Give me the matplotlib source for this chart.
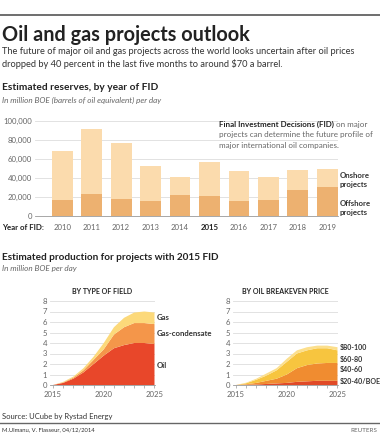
"""Oil and gas projects outlook - recreated Reuters graphic."""
import matplotlib
matplotlib.use("Agg")
import matplotlib.pyplot as plt
import numpy as np

plt.rcParams.update({
    "font.family": ["Lato", "DejaVu Sans"],
    "font.size": 6,
    "axes.linewidth": 0.6,
})

W, H = 380, 438
TXT = "#333333"
GREY = "#666666"
GRID = "#dddddd"

# ---- data ----------------------------------------------------------------
fid_years = ["2010", "2011", "2012", "2013", "2014", "2015", "2016", "2017", "2018", "2019"]
reserves_total = [68000, 92000, 77000, 53000, 41000, 57000, 47000, 41000, 48000, 49000]
reserves_offshore = [17000, 23000, 18000, 16000, 22000, 21000, 15500, 16500, 27000, 30500]

prod_years = [2015, 2016, 2017, 2018, 2019, 2020, 2021, 2022, 2023, 2024, 2025]
# by type of field (per layer)
oil = [0.0, 0.2, 0.6, 1.2, 2.0, 2.8, 3.5, 3.8, 4.0, 4.0, 3.9]
gas_condensate = [0.0, 0.05, 0.1, 0.2, 0.4, 0.6, 1.3, 1.7, 1.9, 1.9, 1.9]
gas = [0.0, 0.05, 0.1, 0.2, 0.3, 0.6, 0.7, 0.9, 1.0, 1.1, 1.1]
# by oil breakeven price (per layer)
be_20_40 = [0.0, 0.02, 0.05, 0.1, 0.15, 0.2, 0.3, 0.35, 0.4, 0.4, 0.4]
be_40_60 = [0.0, 0.05, 0.15, 0.3, 0.45, 0.8, 1.3, 1.55, 1.65, 1.7, 1.7]
be_60_80 = [0.0, 0.1, 0.3, 0.5, 0.8, 1.2, 1.4, 1.4, 1.45, 1.4, 1.2]
be_80_100 = [0.0, 0.05, 0.1, 0.2, 0.2, 0.3, 0.3, 0.3, 0.25, 0.25, 0.3]

C_ON, C_OFF = "#fbdbad", "#edb170"
C_OIL, C_COND, C_GAS = "#e8472a", "#f4964a", "#fcd97a"
C_BE = ["#e04a28", "#f08c30", "#f7c53f", "#fcdf8c"]


def fx(px):
    return px / W


def fy(py):
    return 1 - py / H


def axes_px(fig, left, top, right, bottom):
    return fig.add_axes([fx(left), fy(bottom), (right - left) / W, (bottom - top) / H])


fig = plt.figure(figsize=(W / 100, H / 100), dpi=100)

# ---- header --------------------------------------------------------------
fig.add_artist(plt.Line2D([0, 1], [fy(15), fy(15)], color="#555555", lw=1.2))
fig.text(fx(2), fy(35), "Oil and gas projects outlook", fontsize=14.3,
         fontweight="bold", color="#222222", va="center")
fig.text(fx(2), fy(52), "The future of major oil and gas projects across the world looks "
         "uncertain after oil prices", fontsize=6.7, color=TXT, va="center")
fig.text(fx(2), fy(64), "dropped by 40 percent in the last five months to around $70 a barrel.",
         fontsize=6.7, color=TXT, va="center")

fig.text(fx(2), fy(88), "Estimated reserves, by year of FID", fontsize=7.3,
         fontweight="bold", color="#222222", va="center")
fig.text(fx(2), fy(100), "In million BOE (barrels of oil equivalent) per day", fontsize=5.85,
         style="italic", color=GREY, va="center")

# ---- bar chart -----------------------------------------------------------
ax = axes_px(fig, 35, 121, 338, 216)
xs = np.arange(len(fid_years))
onshore = np.array(reserves_total) - np.array(reserves_offshore)
ax.bar(xs, reserves_offshore, 0.71, color=C_OFF, zorder=2)
ax.bar(xs, onshore, 0.71, bottom=reserves_offshore, color=C_ON, zorder=2)
ax.set_xlim(-0.92, 9.36)
ax.set_ylim(0, 100000)
ax.set_yticks(np.arange(0, 100001, 20000))
ax.set_yticklabels([f"{v:,}" for v in range(0, 100001, 20000)])
ax.yaxis.grid(True, color=GRID, lw=0.6, zorder=0)
ax.tick_params(axis="y", length=0, pad=2, labelsize=5.6, labelcolor=GREY)
ax.set_xticks(xs)
ax.set_xticklabels(fid_years)
ax.tick_params(axis="x", length=0, pad=6, labelsize=5.6, labelcolor=GREY)
for lbl in ax.get_xticklabels():
    if lbl.get_text() == "2015":
        lbl.set_fontweight("bold")
        lbl.set_color("#222222")
for s in ["top", "right", "left"]:
    ax.spines[s].set_visible(False)
ax.spines["bottom"].set_color("#999999")
fig.text(fx(2), fy(227), "Year of FID:", fontsize=5.7, fontweight="bold",
         color="#222222", va="center")

renderer = fig.canvas.get_renderer()
t = fig.text(fx(219), fy(124), "Final Investment Decisions (FID)", fontsize=5.8,
             fontweight="bold", color="#222222", va="center")
bb = t.get_window_extent(renderer=renderer)
fig.text(bb.x1 / W + fx(2), fy(124), "on major", fontsize=5.8, color=GREY, va="center")
fig.text(fx(219), fy(135), "projects can determine the future profile of",
         fontsize=5.8, color=GREY, va="center")
fig.text(fx(219), fy(146), "major international oil companies.",
         fontsize=5.8, color=GREY, va="center")
for py, s in [(175, "Onshore"), (184, "projects"), (203, "Offshore"), (212, "projects")]:
    fig.text(fx(340), fy(py), s, fontsize=5.6, fontweight="bold", color=TXT, va="center")

# ---- production section --------------------------------------------------
fig.text(fx(2), fy(257), "Estimated production for projects with 2015 FID", fontsize=7.2,
         fontweight="bold", color="#222222", va="center")
fig.text(fx(2), fy(269), "In million BOE per day", fontsize=5.85, style="italic",
         color=GREY, va="center")


def area_axes(left, right, title, layers, colors, labels, label_y, label_size):
    a = axes_px(fig, left, 301, right, 385)
    a.stackplot(prod_years, *layers, colors=colors, lw=0, zorder=2)
    a.set_xlim(2014.7, 2025.05)
    a.set_ylim(0, 8)
    a.set_yticks(range(0, 9))
    a.yaxis.grid(True, color=GRID, lw=0.6, zorder=0)
    a.tick_params(axis="y", length=0, pad=2, labelsize=5.6, labelcolor=GREY)
    a.set_xticks([2015, 2020, 2025])
    a.set_xticks(prod_years, minor=True)
    a.tick_params(axis="x", which="both", length=2.5, width=0.5, color="#999999",
                  pad=2, labelsize=5.6, labelcolor=GREY)
    for s in ["top", "right", "left"]:
        a.spines[s].set_visible(False)
    a.spines["bottom"].set_color("#999999")
    fig.text(fx((left + right) / 2), fy(292), title, fontsize=5, fontweight="bold",
             color="#222222", ha="center", va="center")
    for py, s in zip(label_y, labels):
        fig.text(fx(right + 2), fy(py), s, fontsize=label_size, fontweight="bold",
                 color=TXT, va="center")
    return a


area_axes(50, 155, "BY TYPE OF FIELD", [oil, gas_condensate, gas],
          [C_OIL, C_COND, C_GAS], ["Gas", "Gas-condensate", "Oil"], [318, 334, 365], 5.6)
area_axes(233, 338, "BY OIL BREAKEVEN PRICE", [be_20_40, be_40_60, be_60_80, be_80_100],
          C_BE, ["$80-100", "$60-80", "$40-60", "$20-40/BOE"], [347, 359, 370, 382], 5.1)

# ---- footer --------------------------------------------------------------
fig.text(fx(2), fy(416), "Source: UCube by Rystad Energy", fontsize=5.5, color=TXT, va="center")
fig.add_artist(plt.Line2D([0, 1], [fy(423), fy(423)], color="#666666", lw=1.0))
fig.text(fx(2), fy(430), "M.Ulmanu, V. Flasseur, 04/12/2014", fontsize=4.2, color=TXT,
         va="center")
fig.text(fx(377), fy(430), "REUTERS", fontsize=4.5, color=GREY, ha="right", va="center")

fig.savefig("out.png", dpi=100)
